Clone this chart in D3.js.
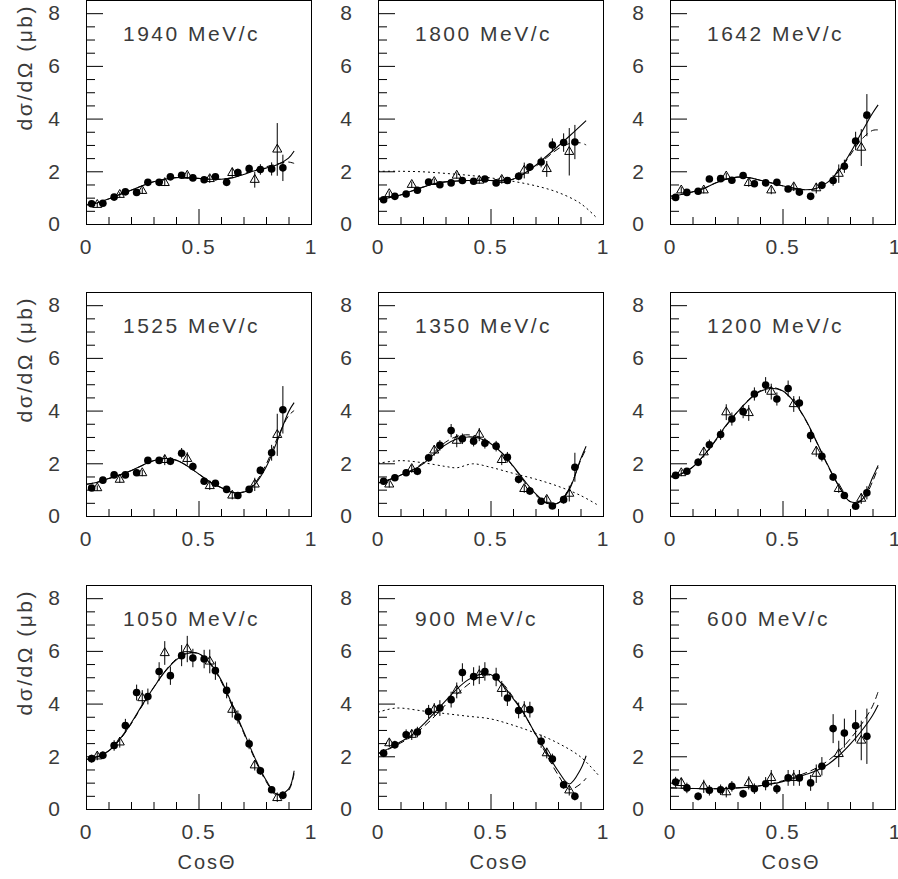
<!DOCTYPE html>
<html>
<head>
<meta charset="utf-8">
<style>
  body { margin: 0; background: #fff; }
  text { font-family: "Liberation Sans", Arial, sans-serif; fill: #3a3a3a; }
</style>
</head>
<body>
<svg id="chart" width="898" height="879"></svg>
<script src="https://d3js.org/d3.v7.min.js"></script>
<script>

// panel titles, reading order
var labels = ["1940 MeV/c", "1800 MeV/c", "1642 MeV/c",
              "1525 MeV/c", "1350 MeV/c", "1200 MeV/c",
              "1050 MeV/c", "900 MeV/c", "600 MeV/c"];

// x positions of the measurements
var cosCircle = [0.025, 0.075, 0.125, 0.175, 0.225, 0.275, 0.325, 0.375, 0.425,
                 0.475, 0.525, 0.575, 0.625, 0.675, 0.725, 0.775, 0.825, 0.875];
var cosTriangle = [0.05, 0.15, 0.25, 0.35, 0.45, 0.55, 0.65, 0.75, 0.85];
var cosCurve = [0, 0.05, 0.1, 0.15, 0.2, 0.25, 0.3, 0.35, 0.4, 0.45,
                0.5, 0.55, 0.6, 0.65, 0.7, 0.75, 0.8, 0.85, 0.9, 0.925];

// filled circles
var circleY = [
  [0.77, 0.79, 1.02, 1.22, 1.20, 1.58, 1.58, 1.79, 1.85, 1.75, 1.68, 1.79, 1.58, 1.95, 2.10, 2.07, 2.09, 2.13],
  [0.92, 1.05, 1.14, 1.28, 1.59, 1.49, 1.56, 1.65, 1.62, 1.71, 1.56, 1.65, 1.81, 2.16, 2.35, 3.00, 3.09, 3.11],
  [1.01, 1.20, 1.24, 1.71, 1.72, 1.66, 1.84, 1.53, 1.56, 1.58, 1.33, 1.21, 1.05, 1.47, 1.65, 2.19, 3.15, 4.13],
  [1.06, 1.36, 1.56, 1.56, 1.64, 2.11, 2.11, 2.08, 2.38, 1.88, 1.32, 1.24, 1.01, 0.78, 1.01, 1.73, 2.40, 4.03],
  [1.32, 1.45, 1.64, 1.70, 2.21, 2.68, 3.24, 2.93, 2.84, 2.76, 2.65, 2.23, 1.39, 0.95, 0.56, 0.38, 0.62, 1.85],
  [1.54, 1.70, 2.04, 2.70, 3.09, 3.68, 3.96, 4.63, 4.97, 4.44, 4.84, 4.29, 3.05, 2.27, 1.48, 0.78, 0.37, 0.88],
  [1.91, 2.04, 2.41, 3.17, 4.42, 4.27, 5.22, 5.06, 5.82, 5.73, 5.69, 5.25, 4.50, 3.49, 2.47, 1.45, 0.73, 0.52],
  [2.12, 2.44, 2.82, 2.92, 3.70, 3.83, 4.15, 5.18, 5.03, 5.22, 5.01, 4.21, 3.74, 3.77, 2.57, 1.90, 0.92, 0.48],
  [1.02, 0.80, 0.48, 0.71, 0.73, 0.86, 0.58, 0.77, 0.96, 0.77, 1.18, 1.18, 0.99, 1.62, 3.05, 2.88, 3.16, 2.76]
];
var circleErr = [
  [0.08, 0.08, 0.1, 0.1, 0.1, 0.1, 0.1, 0.1, 0.12, 0.12, 0.12, 0.12, 0.12, 0.15, 0.15, 0.2, 0.25, 0.5],
  [0.08, 0.08, 0.1, 0.1, 0.1, 0.1, 0.1, 0.1, 0.1, 0.1, 0.12, 0.12, 0.15, 0.15, 0.2, 0.25, 0.35, 0.65],
  [0.08, 0.1, 0.1, 0.12, 0.12, 0.12, 0.12, 0.12, 0.12, 0.12, 0.12, 0.12, 0.12, 0.15, 0.2, 0.25, 0.35, 0.8],
  [0.1, 0.1, 0.1, 0.12, 0.12, 0.12, 0.12, 0.15, 0.2, 0.15, 0.12, 0.12, 0.12, 0.12, 0.12, 0.15, 0.3, 0.9],
  [0.12, 0.12, 0.12, 0.15, 0.15, 0.2, 0.25, 0.2, 0.2, 0.2, 0.2, 0.2, 0.15, 0.15, 0.12, 0.1, 0.15, 0.55],
  [0.12, 0.12, 0.15, 0.2, 0.2, 0.25, 0.25, 0.25, 0.3, 0.25, 0.3, 0.25, 0.25, 0.2, 0.15, 0.12, 0.1, 0.25],
  [0.15, 0.15, 0.2, 0.25, 0.3, 0.3, 0.35, 0.35, 0.4, 0.35, 0.35, 0.35, 0.3, 0.25, 0.2, 0.15, 0.12, 0.15],
  [0.15, 0.15, 0.2, 0.2, 0.25, 0.3, 0.3, 0.35, 0.35, 0.35, 0.35, 0.3, 0.3, 0.3, 0.25, 0.2, 0.15, 0.15],
  [0.2, 0.2, 0.15, 0.2, 0.2, 0.2, 0.15, 0.2, 0.25, 0.2, 0.3, 0.3, 0.3, 0.35, 0.55, 0.55, 0.6, 1.05]
];

// open triangles
var triY = [
  [0.73, 1.11, 1.26, 1.56, 1.84, 1.71, 1.94, 1.68, 2.83],
  [1.14, 1.49, 1.60, 1.84, 1.65, 1.68, 2.03, 2.09, 2.74],
  [1.28, 1.28, 1.81, 1.56, 1.28, 1.40, 1.36, 1.91, 2.90],
  [1.06, 1.38, 1.63, 2.13, 2.17, 1.14, 0.78, 1.20, 3.08],
  [1.20, 1.79, 2.49, 2.86, 3.09, 2.13, 1.03, 0.62, 0.85],
  [1.63, 2.42, 3.94, 3.91, 4.72, 4.25, 2.45, 1.03, 0.66],
  [2.00, 2.53, 4.21, 5.92, 6.07, 5.60, 3.77, 1.66, 0.42],
  [2.50, 2.82, 3.77, 4.50, 5.09, 4.56, 3.79, 2.12, 0.71],
  [0.99, 0.86, 0.64, 0.99, 1.18, 1.18, 1.34, 2.09, 2.60]
];
var triErr = [
  [0.1, 0.1, 0.12, 0.12, 0.12, 0.15, 0.2, 0.3, 1.0],
  [0.1, 0.12, 0.12, 0.12, 0.12, 0.15, 0.3, 0.3, 0.9],
  [0.12, 0.12, 0.12, 0.15, 0.15, 0.15, 0.2, 0.35, 0.7],
  [0.1, 0.12, 0.12, 0.2, 0.25, 0.15, 0.15, 0.25, 0.8],
  [0.12, 0.15, 0.2, 0.25, 0.25, 0.2, 0.15, 0.15, 0.3],
  [0.12, 0.2, 0.3, 0.3, 0.3, 0.3, 0.2, 0.15, 0.2],
  [0.15, 0.2, 0.3, 0.45, 0.5, 0.45, 0.3, 0.2, 0.15],
  [0.15, 0.2, 0.25, 0.3, 0.35, 0.3, 0.3, 0.2, 0.2],
  [0.2, 0.25, 0.2, 0.25, 0.3, 0.3, 0.35, 0.5, 0.75]
];

// fit curves, sampled on cosCurve
var solidY = [
  [0.72, 0.80, 0.95, 1.12, 1.28, 1.45, 1.60, 1.70, 1.76, 1.76, 1.73, 1.70, 1.70, 1.75, 1.88, 2.02, 2.12, 2.25, 2.50, 2.77],
  [0.93, 1.00, 1.10, 1.25, 1.40, 1.53, 1.60, 1.63, 1.65, 1.66, 1.65, 1.64, 1.70, 1.92, 2.22, 2.58, 2.95, 3.33, 3.72, 3.92],
  [1.05, 1.12, 1.22, 1.35, 1.55, 1.70, 1.78, 1.76, 1.66, 1.56, 1.45, 1.36, 1.30, 1.35, 1.58, 2.02, 2.68, 3.45, 4.20, 4.52],
  [1.20, 1.28, 1.42, 1.56, 1.72, 1.92, 2.10, 2.18, 2.12, 1.90, 1.60, 1.30, 1.08, 0.90, 0.90, 1.20, 1.85, 2.85, 3.95, 4.30],
  [1.25, 1.38, 1.55, 1.72, 1.98, 2.35, 2.70, 2.92, 3.00, 2.95, 2.75, 2.40, 1.90, 1.35, 0.85, 0.50, 0.48, 1.00, 2.15, 2.65],
  [1.50, 1.60, 1.85, 2.30, 2.85, 3.45, 3.95, 4.40, 4.72, 4.85, 4.75, 4.35, 3.70, 2.85, 1.95, 1.15, 0.55, 0.60, 1.45, 1.92],
  [1.88, 1.98, 2.20, 2.65, 3.25, 3.95, 4.60, 5.20, 5.65, 5.90, 5.90, 5.55, 4.90, 3.95, 2.95, 1.95, 1.10, 0.55, 0.75, 1.45],
  [2.10, 2.30, 2.55, 2.80, 3.20, 3.65, 4.10, 4.55, 4.90, 5.10, 5.10, 4.75, 4.20, 3.60, 2.85, 2.15, 1.45, 0.95, 1.50, 2.02],
  [0.80, 0.79, 0.78, 0.77, 0.77, 0.78, 0.80, 0.83, 0.88, 0.95, 1.04, 1.16, 1.30, 1.45, 1.68, 2.02, 2.45, 2.95, 3.55, 3.95]
];
var dashedY = [
  [0.72, 0.80, 0.95, 1.12, 1.28, 1.45, 1.60, 1.70, 1.76, 1.76, 1.73, 1.70, 1.70, 1.76, 1.90, 2.05, 2.17, 2.28, 2.35, 2.30],
  [0.93, 1.00, 1.10, 1.25, 1.40, 1.53, 1.60, 1.63, 1.65, 1.66, 1.65, 1.64, 1.70, 1.90, 2.18, 2.52, 2.85, 3.05, 3.08, 3.00],
  [1.05, 1.12, 1.22, 1.35, 1.55, 1.70, 1.78, 1.76, 1.66, 1.56, 1.45, 1.36, 1.30, 1.35, 1.58, 2.00, 2.60, 3.20, 3.55, 3.57],
  [1.20, 1.28, 1.42, 1.56, 1.72, 1.92, 2.10, 2.18, 2.12, 1.90, 1.60, 1.30, 1.08, 0.90, 0.92, 1.25, 1.95, 2.95, 3.80, 4.00],
  [1.25, 1.38, 1.55, 1.74, 2.02, 2.42, 2.80, 3.02, 3.08, 3.00, 2.78, 2.40, 1.88, 1.30, 0.80, 0.48, 0.50, 1.05, 2.10, 2.55],
  [1.50, 1.60, 1.85, 2.28, 2.82, 3.42, 3.95, 4.42, 4.75, 4.88, 4.75, 4.33, 3.68, 2.83, 1.93, 1.13, 0.55, 0.55, 1.30, 1.85],
  [1.88, 1.98, 2.20, 2.62, 3.22, 3.92, 4.60, 5.22, 5.68, 5.92, 5.90, 5.52, 4.85, 3.90, 2.90, 1.90, 1.05, 0.50, 0.70, 1.35],
  [2.10, 2.28, 2.50, 2.75, 3.10, 3.50, 3.95, 4.35, 4.72, 5.00, 5.08, 4.80, 4.25, 3.60, 2.82, 2.05, 1.30, 0.75, 0.95, 1.17],
  [0.80, 0.79, 0.78, 0.77, 0.77, 0.78, 0.80, 0.83, 0.88, 0.96, 1.07, 1.20, 1.36, 1.55, 1.82, 2.18, 2.65, 3.20, 3.90, 4.45]
];

// dotted curves (only three panels)
var dottedX = [null,
  [0, 0.1, 0.2, 0.3, 0.4, 0.5, 0.6, 0.7, 0.8, 0.9, 0.97],
  null, null,
  [0, 0.1, 0.2, 0.3, 0.35, 0.42, 0.5, 0.6, 0.7, 0.8, 0.9, 0.98],
  null, null,
  [0, 0.08, 0.2, 0.3, 0.4, 0.5, 0.6, 0.7, 0.8, 0.9, 0.98],
  null];
var dottedY = [null,
  [2.0, 2.0, 1.98, 1.92, 1.85, 1.75, 1.62, 1.45, 1.2, 0.78, 0.25],
  null, null,
  [2.0, 2.1, 2.02, 1.88, 1.83, 1.98, 1.85, 1.62, 1.4, 1.13, 0.78, 0.4],
  null, null,
  [3.67, 3.83, 3.72, 3.62, 3.52, 3.42, 3.18, 2.88, 2.5, 1.98, 1.28],
  null];

var yMajor = [0, 2, 4, 6, 8];
var yMinor = [0.5, 1, 1.5, 2.5, 3, 3.5, 4.5, 5, 5.5, 6.5, 7, 7.5];
var xMajor = [0, 0.5, 1];
var xMinor = [0.1, 0.2, 0.3, 0.4, 0.6, 0.7, 0.8, 0.9];

var colLeft = [86, 378, 670],
    rowTop = [0, 292, 585],
    pw = 225,
    ph = 224;

var svg = d3.select("#chart");
svg.append("rect").attr("width", 898).attr("height", 879).attr("fill", "#fff");

var tri = d3.symbol().type(d3.symbolTriangle).size(36);

labels.forEach(function(label, i) {
  var r = Math.floor(i / 3), c = i % 3;
  var g = svg.append("g")
      .attr("transform", "translate(" + colLeft[c] + "," + rowTop[r] + ")");

  var x = d3.scaleLinear().domain([0, 1]).range([0, pw]);
  var y = d3.scaleLinear().domain([0, 8.5]).range([ph, 0]);

  g.append("clipPath").attr("id", "clip" + i)
    .append("rect").attr("width", pw).attr("height", ph);

  // axes, ticks pointing inward
  var ax = g.append("g").attr("class", "axis");
  ax.append("g").call(d3.axisLeft(y).tickValues(yMajor).tickSize(-17).tickPadding(24).tickFormat(d3.format("d")));
  ax.append("g").call(d3.axisLeft(y).tickValues(yMinor).tickSize(-9).tickFormat(""));
  ax.append("g").attr("transform", "translate(0," + ph + ")")
    .call(d3.axisBottom(x).tickValues(xMajor).tickSize(-15).tickPadding(15).tickFormat(function(d) { return String(d); }));
  ax.append("g").attr("transform", "translate(0," + ph + ")")
    .call(d3.axisBottom(x).tickValues(xMinor).tickSize(-7).tickFormat(""));
  ax.selectAll(".domain").remove();
  ax.selectAll("g").attr("font-size", null).attr("font-family", null);
  ax.selectAll("text").style("font-size", "21px").style("letter-spacing", "2px").style("fill", "#3a3a3a");
  ax.selectAll(".tick line").attr("stroke", "#000");

  g.append("rect")
    .attr("x", 0.5).attr("y", 0.5)
    .attr("width", pw).attr("height", ph)
    .attr("fill", "none").attr("stroke", "#000").attr("stroke-width", 1);

  var line = d3.line()
      .x(function(d) { return x(d[0]); })
      .y(function(d) { return y(d[1]); })
      .curve(d3.curveCatmullRom.alpha(0.5));

  var curves = g.append("g").attr("clip-path", "url(#clip" + i + ")");

  if (dottedX[i]) {
    curves.append("path")
      .attr("d", line(d3.zip(dottedX[i], dottedY[i])))
      .attr("fill", "none").attr("stroke", "#000").attr("stroke-width", 1)
      .attr("stroke-dasharray", "2,3");
  }
  curves.append("path")
    .attr("d", line(d3.zip(cosCurve, dashedY[i])))
    .attr("fill", "none").attr("stroke", "#000").attr("stroke-width", 1)
    .attr("stroke-dasharray", "7,4");
  curves.append("path")
    .attr("d", line(d3.zip(cosCurve, solidY[i])))
    .attr("fill", "none").attr("stroke", "#000").attr("stroke-width", 1.1);

  // error bars
  var eb = g.append("g").attr("stroke", "#000").attr("stroke-width", 1);
  cosCircle.forEach(function(cx, k) {
    eb.append("line")
      .attr("x1", x(cx)).attr("x2", x(cx))
      .attr("y1", y(circleY[i][k] - circleErr[i][k]))
      .attr("y2", y(circleY[i][k] + circleErr[i][k]));
  });
  cosTriangle.forEach(function(cx, k) {
    eb.append("line")
      .attr("x1", x(cx)).attr("x2", x(cx))
      .attr("y1", y(triY[i][k] - triErr[i][k]))
      .attr("y2", y(triY[i][k] + triErr[i][k]));
  });

  g.selectAll(".tri")
    .data(d3.zip(cosTriangle, triY[i]))
    .enter().append("path")
      .attr("class", "tri")
      .attr("d", tri)
      .attr("transform", function(d) { return "translate(" + x(d[0]) + "," + y(d[1]) + ")"; })
      .attr("fill", "none").attr("stroke", "#000").attr("stroke-width", 1);

  g.selectAll(".dot")
    .data(d3.zip(cosCircle, circleY[i]))
    .enter().append("circle")
      .attr("class", "dot")
      .attr("cx", function(d) { return x(d[0]); })
      .attr("cy", function(d) { return y(d[1]); })
      .attr("r", 3.8)
      .attr("fill", "#000");

  g.append("text")
    .attr("x", 37).attr("y", 41)
    .style("font-size", "21px").style("letter-spacing", "2.5px")
    .text(label);

  if (c == 0) {
    svg.append("text")
      .attr("transform", "translate(32," + (rowTop[r] + 4) + ") rotate(-90)")
      .attr("text-anchor", "end")
      .style("font-size", "21px").style("letter-spacing", "2.5px")
      .text("dσ/dΩ (μb)");
  }
  if (r == 2) {
    svg.append("text")
      .attr("x", colLeft[c] + 121).attr("y", 869)
      .attr("text-anchor", "middle")
      .style("font-size", "20px").style("letter-spacing", "2px")
      .text("CosΘ");
  }
});

</script>
</body>
</html>
